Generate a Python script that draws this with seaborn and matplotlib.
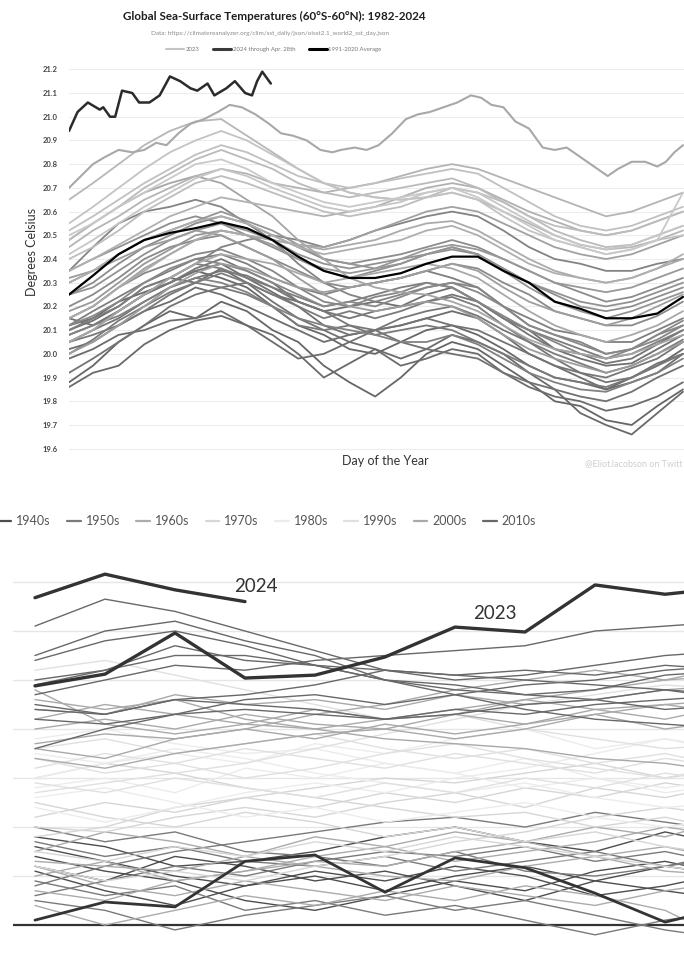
import numpy as np
import pandas as pd
import matplotlib
matplotlib.use("Agg")
import matplotlib.pyplot as plt
import seaborn as sns
from matplotlib.lines import Line2D

sns.set_theme(style="white")
plt.rcParams["font.family"] = ["Lato", "DejaVu Sans"]

# ---------------- top chart data (daily SST, deg C) ----------------
days = [1, 15, 30, 45, 60, 75, 90, 105, 120, 135, 150, 165, 180, 195, 210,
        225, 240, 255, 270, 285, 300, 315, 330, 345, 360]

avg_vals = [20.25, 20.33, 20.42, 20.48, 20.51, 20.53, 20.555, 20.53, 20.48, 20.41,
            20.35, 20.32, 20.32, 20.34, 20.38, 20.41, 20.41, 20.35, 20.30, 20.22,
            20.19, 20.15, 20.15, 20.17, 20.24]

days_2023 = [1, 8, 15, 22, 30, 38, 45, 52, 58, 65, 72, 80, 88, 95, 102, 110, 118,
             125, 132, 140, 148, 155, 160, 168, 175, 182, 190, 198, 205, 212, 220,
             228, 236, 242, 248, 255, 262, 270, 278, 285, 292, 300, 308, 316, 322,
             330, 338, 345, 350, 355, 360]
vals_2023 = [20.70, 20.75, 20.80, 20.83, 20.86, 20.85, 20.86, 20.89, 20.88, 20.93,
             20.97, 20.99, 21.02, 21.05, 21.04, 21.01, 20.97, 20.93, 20.92, 20.90,
             20.86, 20.85, 20.86, 20.87, 20.86, 20.88, 20.93, 20.99, 21.01, 21.02,
             21.04, 21.06, 21.09, 21.08, 21.05, 21.04, 20.98, 20.95, 20.87, 20.86,
             20.87, 20.83, 20.79, 20.75, 20.78, 20.81, 20.81, 20.79, 20.81, 20.85,
             20.88]

days_2024 = [1, 6, 12, 19, 21, 25, 28, 32, 38, 42, 48, 54, 60, 66, 72, 76, 82,
             86, 93, 98, 104, 108, 111, 114, 117, 119]
vals_2024 = [20.94, 21.02, 21.06, 21.03, 21.04, 21.00, 21.00, 21.11, 21.10, 21.06,
             21.06, 21.09, 21.17, 21.15, 21.12, 21.11, 21.14, 21.09, 21.12, 21.15,
             21.10, 21.09, 21.15, 21.19, 21.16, 21.14]

sst_years = {
    1982: [19.88, 19.95, 20.05, 20.12, 20.18, 20.15, 20.22, 20.18, 20.10, 20.05, 19.95, 19.88, 19.82, 19.90, 20.00, 20.05, 20.02, 19.95, 19.88, 19.80, 19.78, 19.72, 19.70, 19.78, 19.85],
    1983: [20.12, 20.15, 20.22, 20.26, 20.30, 20.35, 20.32, 20.28, 20.20, 20.12, 20.08, 20.02, 20.00, 20.05, 20.10, 20.12, 20.08, 20.02, 19.95, 19.90, 19.88, 19.85, 19.90, 19.95, 20.02],
    1984: [19.86, 19.92, 19.95, 20.04, 20.10, 20.14, 20.16, 20.12, 20.08, 20.00, 19.90, 19.96, 20.02, 19.98, 20.02, 20.08, 20.05, 20.00, 19.92, 19.85, 19.75, 19.70, 19.66, 19.75, 19.84],
    1985: [19.98, 20.02, 20.08, 20.10, 20.14, 20.15, 20.18, 20.12, 20.05, 19.98, 20.00, 20.05, 20.02, 19.95, 19.98, 20.02, 20.00, 19.92, 19.86, 19.82, 19.80, 19.76, 19.78, 19.82, 19.88],
    1986: [20.02, 20.05, 20.12, 20.18, 20.22, 20.28, 20.25, 20.20, 20.15, 20.10, 20.05, 20.08, 20.10, 20.12, 20.15, 20.18, 20.15, 20.08, 20.00, 19.95, 19.90, 19.85, 19.88, 19.92, 20.00],
    1987: [20.10, 20.14, 20.20, 20.28, 20.32, 20.30, 20.36, 20.30, 20.25, 20.22, 20.18, 20.20, 20.22, 20.20, 20.25, 20.28, 20.22, 20.15, 20.10, 20.02, 19.98, 19.95, 19.96, 20.02, 20.08],
    1988: [20.15, 20.12, 20.18, 20.25, 20.30, 20.35, 20.38, 20.32, 20.26, 20.20, 20.12, 20.08, 20.10, 20.05, 20.02, 20.00, 19.98, 19.92, 19.88, 19.85, 19.82, 19.80, 19.84, 19.90, 19.95],
    1989: [19.92, 19.98, 20.05, 20.12, 20.20, 20.25, 20.28, 20.30, 20.22, 20.15, 20.10, 20.05, 20.10, 20.12, 20.15, 20.12, 20.10, 20.05, 20.00, 19.95, 19.92, 19.88, 19.90, 19.96, 20.00],
    1990: [20.05, 20.10, 20.15, 20.22, 20.28, 20.32, 20.35, 20.33, 20.28, 20.22, 20.18, 20.15, 20.18, 20.20, 20.22, 20.25, 20.22, 20.15, 20.08, 20.02, 20.00, 19.96, 19.98, 20.04, 20.10],
    1991: [20.08, 20.12, 20.18, 20.25, 20.30, 20.36, 20.40, 20.35, 20.30, 20.22, 20.18, 20.12, 20.10, 20.15, 20.18, 20.20, 20.16, 20.10, 20.05, 19.98, 19.92, 19.90, 19.94, 19.98, 20.05],
    1992: [20.05, 20.08, 20.12, 20.18, 20.25, 20.30, 20.28, 20.25, 20.20, 20.12, 20.10, 20.12, 20.08, 20.10, 20.12, 20.10, 20.05, 20.00, 19.95, 19.90, 19.88, 19.86, 19.90, 19.95, 20.00],
    1993: [20.00, 20.06, 20.14, 20.20, 20.26, 20.30, 20.34, 20.30, 20.25, 20.20, 20.15, 20.18, 20.15, 20.18, 20.22, 20.24, 20.20, 20.12, 20.05, 20.00, 19.96, 19.92, 19.95, 20.00, 20.06],
    1994: [20.10, 20.15, 20.20, 20.28, 20.32, 20.38, 20.36, 20.32, 20.28, 20.24, 20.20, 20.22, 20.25, 20.28, 20.30, 20.28, 20.22, 20.15, 20.10, 20.06, 20.02, 19.98, 20.00, 20.05, 20.10],
    1995: [20.12, 20.18, 20.24, 20.30, 20.35, 20.40, 20.42, 20.38, 20.32, 20.28, 20.25, 20.28, 20.30, 20.32, 20.35, 20.32, 20.28, 20.20, 20.15, 20.10, 20.08, 20.05, 20.05, 20.10, 20.15],
    1996: [20.08, 20.12, 20.16, 20.22, 20.28, 20.32, 20.30, 20.26, 20.20, 20.15, 20.12, 20.10, 20.08, 20.05, 20.05, 20.08, 20.04, 19.98, 19.92, 19.88, 19.85, 19.84, 19.88, 19.92, 19.98],
    1997: [20.05, 20.10, 20.18, 20.25, 20.32, 20.38, 20.45, 20.48, 20.50, 20.48, 20.45, 20.48, 20.52, 20.55, 20.58, 20.60, 20.58, 20.52, 20.45, 20.40, 20.38, 20.35, 20.35, 20.38, 20.40],
    1998: [20.35, 20.45, 20.55, 20.60, 20.62, 20.65, 20.62, 20.55, 20.48, 20.38, 20.30, 20.25, 20.22, 20.25, 20.28, 20.30, 20.28, 20.20, 20.12, 20.08, 20.05, 20.00, 20.02, 20.08, 20.12],
    1999: [20.15, 20.20, 20.28, 20.34, 20.38, 20.42, 20.44, 20.40, 20.35, 20.28, 20.22, 20.20, 20.24, 20.26, 20.30, 20.28, 20.22, 20.16, 20.10, 20.05, 20.00, 19.98, 20.02, 20.06, 20.12],
    2000: [20.12, 20.16, 20.22, 20.30, 20.36, 20.40, 20.38, 20.35, 20.30, 20.25, 20.20, 20.22, 20.20, 20.24, 20.28, 20.30, 20.26, 20.20, 20.12, 20.08, 20.04, 20.00, 20.02, 20.08, 20.14],
    2001: [20.20, 20.25, 20.32, 20.40, 20.45, 20.48, 20.50, 20.45, 20.40, 20.35, 20.30, 20.28, 20.30, 20.32, 20.35, 20.38, 20.36, 20.30, 20.25, 20.18, 20.15, 20.12, 20.12, 20.16, 20.22],
    2002: [20.25, 20.30, 20.38, 20.45, 20.50, 20.55, 20.58, 20.55, 20.50, 20.45, 20.40, 20.38, 20.40, 20.42, 20.45, 20.48, 20.45, 20.40, 20.35, 20.30, 20.26, 20.22, 20.24, 20.28, 20.32],
    2003: [20.35, 20.40, 20.45, 20.50, 20.55, 20.58, 20.55, 20.50, 20.45, 20.40, 20.35, 20.32, 20.35, 20.38, 20.42, 20.45, 20.42, 20.36, 20.30, 20.25, 20.20, 20.18, 20.20, 20.24, 20.28],
    2004: [20.25, 20.28, 20.35, 20.42, 20.48, 20.52, 20.55, 20.52, 20.48, 20.42, 20.38, 20.36, 20.38, 20.40, 20.42, 20.44, 20.42, 20.36, 20.30, 20.26, 20.22, 20.20, 20.22, 20.26, 20.30],
    2005: [20.30, 20.35, 20.42, 20.48, 20.52, 20.56, 20.60, 20.56, 20.52, 20.46, 20.40, 20.38, 20.36, 20.38, 20.42, 20.45, 20.42, 20.35, 20.28, 20.22, 20.18, 20.15, 20.18, 20.22, 20.26],
    2006: [20.18, 20.22, 20.30, 20.38, 20.44, 20.50, 20.52, 20.50, 20.46, 20.40, 20.36, 20.34, 20.36, 20.40, 20.44, 20.46, 20.44, 20.40, 20.35, 20.30, 20.28, 20.26, 20.28, 20.32, 20.36],
    2007: [20.32, 20.35, 20.40, 20.45, 20.48, 20.52, 20.50, 20.45, 20.40, 20.32, 20.25, 20.20, 20.18, 20.20, 20.22, 20.20, 20.15, 20.08, 20.02, 19.98, 19.95, 19.92, 19.95, 20.00, 20.05],
    2008: [20.00, 20.05, 20.12, 20.20, 20.28, 20.34, 20.38, 20.36, 20.32, 20.28, 20.26, 20.28, 20.30, 20.32, 20.35, 20.38, 20.35, 20.28, 20.22, 20.18, 20.15, 20.12, 20.15, 20.20, 20.25],
    2009: [20.15, 20.20, 20.28, 20.36, 20.42, 20.48, 20.52, 20.50, 20.48, 20.46, 20.45, 20.48, 20.52, 20.56, 20.60, 20.62, 20.60, 20.55, 20.50, 20.45, 20.42, 20.40, 20.42, 20.46, 20.50],
    2010: [20.48, 20.55, 20.62, 20.68, 20.72, 20.75, 20.72, 20.65, 20.58, 20.48, 20.40, 20.32, 20.28, 20.26, 20.25, 20.22, 20.18, 20.12, 20.06, 20.02, 20.00, 19.98, 20.00, 20.04, 20.08],
    2011: [20.05, 20.10, 20.18, 20.25, 20.32, 20.38, 20.42, 20.40, 20.38, 20.34, 20.30, 20.32, 20.34, 20.36, 20.38, 20.36, 20.32, 20.25, 20.18, 20.12, 20.08, 20.05, 20.08, 20.12, 20.18],
    2012: [20.15, 20.20, 20.28, 20.35, 20.42, 20.48, 20.52, 20.50, 20.48, 20.46, 20.44, 20.46, 20.48, 20.52, 20.55, 20.56, 20.52, 20.46, 20.40, 20.35, 20.32, 20.30, 20.32, 20.36, 20.40],
    2013: [20.30, 20.35, 20.42, 20.48, 20.52, 20.56, 20.58, 20.55, 20.50, 20.45, 20.42, 20.44, 20.46, 20.48, 20.52, 20.54, 20.50, 20.44, 20.38, 20.34, 20.32, 20.30, 20.32, 20.36, 20.42],
    2014: [20.35, 20.40, 20.46, 20.52, 20.58, 20.62, 20.66, 20.64, 20.62, 20.60, 20.58, 20.60, 20.62, 20.66, 20.70, 20.72, 20.70, 20.65, 20.60, 20.56, 20.52, 20.50, 20.52, 20.56, 20.60],
    2015: [20.45, 20.52, 20.58, 20.65, 20.70, 20.75, 20.78, 20.76, 20.72, 20.70, 20.68, 20.70, 20.72, 20.75, 20.78, 20.80, 20.78, 20.74, 20.70, 20.66, 20.62, 20.58, 20.60, 20.64, 20.68],
    2016: [20.65, 20.72, 20.80, 20.88, 20.94, 20.98, 20.99, 20.92, 20.85, 20.78, 20.72, 20.68, 20.66, 20.65, 20.66, 20.68, 20.65, 20.60, 20.55, 20.50, 20.46, 20.44, 20.45, 20.48, 20.52],
    2017: [20.48, 20.55, 20.62, 20.70, 20.76, 20.82, 20.86, 20.82, 20.78, 20.72, 20.68, 20.66, 20.68, 20.70, 20.72, 20.74, 20.70, 20.64, 20.58, 20.52, 20.48, 20.45, 20.46, 20.50, 20.54],
    2018: [20.40, 20.45, 20.52, 20.60, 20.66, 20.72, 20.75, 20.72, 20.68, 20.64, 20.60, 20.58, 20.60, 20.62, 20.66, 20.70, 20.68, 20.64, 20.58, 20.54, 20.52, 20.50, 20.52, 20.56, 20.60],
    2019: [20.52, 20.58, 20.65, 20.72, 20.78, 20.84, 20.88, 20.85, 20.80, 20.75, 20.72, 20.70, 20.72, 20.74, 20.76, 20.78, 20.76, 20.70, 20.64, 20.58, 20.54, 20.52, 20.54, 20.58, 20.62],
    2020: [20.55, 20.62, 20.70, 20.78, 20.85, 20.90, 20.94, 20.90, 20.84, 20.78, 20.72, 20.68, 20.66, 20.65, 20.66, 20.68, 20.65, 20.58, 20.52, 20.48, 20.45, 20.42, 20.44, 20.48, 20.50],
    2021: [20.42, 20.48, 20.55, 20.62, 20.68, 20.74, 20.78, 20.75, 20.70, 20.66, 20.62, 20.60, 20.62, 20.64, 20.68, 20.70, 20.68, 20.62, 20.56, 20.50, 20.46, 20.44, 20.46, 20.50, 20.54],
    2022: [20.50, 20.55, 20.62, 20.68, 20.74, 20.80, 20.82, 20.78, 20.72, 20.68, 20.64, 20.62, 20.64, 20.66, 20.68, 20.70, 20.66, 20.60, 20.54, 20.48, 20.45, 20.42, 20.44, 20.48, 20.68],
}

top_yticks = [19.6, 19.7, 19.8, 19.9, 20.0, 20.1, 20.2, 20.3, 20.4, 20.5,
              20.6, 20.7, 20.8, 20.9, 21.0, 21.1, 21.2]

# ---------------- bottom chart data (monthly, by decade) ----------------
months = [1, 2, 3, 4, 5, 6, 7, 8, 9, 10, 11, 12]
decades = ["1940s", "1950s", "1960s", "1970s", "1980s", "1990s", "2000s", "2010s"]
decade_colors = {"1940s": "#4d4d4d", "1950s": "#7a7a7a", "1960s": "#ababab",
                 "1970s": "#d6d6d6", "1980s": "#ececec", "1990s": "#e0e0e0",
                 "2000s": "#a9a9a9", "2010s": "#686868"}

monthly = {
    "1940s": {
        1941: [0.16, 0.13, 0.10, 0.08, 0.11, 0.09, 0.12, 0.10, 0.06, 0.08, 0.11, 0.10],
        1942: [0.12, 0.09, 0.14, 0.12, 0.09, 0.11, 0.08, 0.05, 0.09, 0.12, 0.10, 0.08],
        1944: [0.18, 0.16, 0.12, 0.13, 0.15, 0.18, 0.20, 0.17, 0.15, 0.19, 0.16, 0.14],
        1945: [0.11, 0.07, 0.04, 0.08, 0.10, 0.07, 0.10, 0.12, 0.09, 0.07, 0.05, 0.07],
        1948: [0.14, 0.11, 0.09, 0.05, 0.03, 0.06, 0.09, 0.07, 0.11, 0.13, 0.10, 0.09],
    },
    "1950s": {
        1951: [0.06, 0.09, 0.12, 0.10, 0.13, 0.15, 0.14, 0.16, 0.13, 0.15, 0.12, 0.14],
        1953: [0.17, 0.14, 0.16, 0.13, 0.12, 0.14, 0.11, 0.13, 0.15, 0.12, 0.14, 0.13],
        1954: [0.09, 0.06, 0.08, 0.03, 0.05, 0.02, 0.04, 0.01, -0.02, 0.01, 0.03, 0.02],
        1956: [0.05, 0.03, -0.01, 0.02, 0.04, 0.06, 0.03, 0.05, 0.02, -0.01, -0.03, 0.00],
        1957: [0.08, 0.12, 0.15, 0.17, 0.19, 0.21, 0.22, 0.20, 0.23, 0.21, 0.19, 0.20],
        1958: [0.20, 0.17, 0.19, 0.15, 0.14, 0.12, 0.15, 0.11, 0.10, 0.12, 0.15, 0.13],
    },
    "1960s": {
        1961: [0.13, 0.12, 0.11, 0.14, 0.12, 0.10, 0.09, 0.12, 0.14, 0.11, 0.10, 0.12],
        1963: [0.10, 0.13, 0.09, 0.11, 0.14, 0.16, 0.13, 0.15, 0.17, 0.20, 0.18, 0.16],
        1965: [0.07, 0.05, 0.09, 0.11, 0.13, 0.12, 0.15, 0.17, 0.14, 0.16, 0.13, 0.15],
        1967: [0.12, 0.08, 0.06, 0.09, 0.07, 0.05, 0.08, 0.06, 0.04, 0.07, 0.09, 0.06],
        1968: [0.04, 0.00, 0.03, 0.06, 0.04, 0.07, 0.05, 0.08, 0.06, 0.03, -0.04, 0.02],
        1969: [0.15, 0.19, 0.17, 0.14, 0.18, 0.16, 0.19, 0.17, 0.20, 0.18, 0.22, 0.19],
    },
    "1970s": {
        1970: [0.25, 0.22, 0.20, 0.23, 0.21, 0.18, 0.20, 0.17, 0.19, 0.16, 0.14, 0.17],
        1972: [0.18, 0.20, 0.24, 0.26, 0.28, 0.30, 0.29, 0.31, 0.33, 0.30, 0.32, 0.30],
        1973: [0.30, 0.33, 0.31, 0.28, 0.26, 0.24, 0.22, 0.23, 0.20, 0.22, 0.19, 0.21],
        1974: [0.15, 0.13, 0.16, 0.14, 0.17, 0.15, 0.18, 0.16, 0.14, 0.12, 0.10, 0.13],
        1976: [0.12, 0.09, 0.11, 0.09, 0.12, 0.14, 0.17, 0.19, 0.22, 0.24, 0.22, 0.25],
        1977: [0.22, 0.25, 0.23, 0.26, 0.24, 0.27, 0.25, 0.28, 0.26, 0.29, 0.27, 0.28],
        1979: [0.20, 0.19, 0.22, 0.24, 0.22, 0.25, 0.27, 0.24, 0.28, 0.26, 0.29, 0.27],
    },
    "1980s": {
        1980: [0.28, 0.30, 0.27, 0.32, 0.30, 0.33, 0.31, 0.28, 0.30, 0.27, 0.29, 0.26],
        1982: [0.24, 0.21, 0.24, 0.27, 0.29, 0.27, 0.30, 0.32, 0.35, 0.38, 0.36, 0.37],
        1983: [0.38, 0.40, 0.37, 0.35, 0.36, 0.33, 0.31, 0.34, 0.30, 0.28, 0.30, 0.29],
        1984: [0.26, 0.28, 0.25, 0.22, 0.24, 0.21, 0.23, 0.25, 0.22, 0.20, 0.22, 0.19],
        1987: [0.30, 0.33, 0.35, 0.33, 0.37, 0.35, 0.38, 0.40, 0.36, 0.38, 0.35, 0.37],
        1988: [0.35, 0.33, 0.36, 0.34, 0.31, 0.29, 0.27, 0.29, 0.26, 0.24, 0.25, 0.23],
    },
    "1990s": {
        1990: [0.32, 0.35, 0.33, 0.36, 0.34, 0.32, 0.35, 0.33, 0.31, 0.34, 0.32, 0.30],
        1991: [0.34, 0.31, 0.33, 0.30, 0.32, 0.35, 0.37, 0.34, 0.32, 0.30, 0.33, 0.31],
        1995: [0.36, 0.38, 0.35, 0.37, 0.39, 0.36, 0.34, 0.36, 0.33, 0.35, 0.32, 0.34],
        1997: [0.27, 0.29, 0.31, 0.33, 0.36, 0.39, 0.42, 0.45, 0.47, 0.49, 0.48, 0.50],
        1998: [0.52, 0.54, 0.51, 0.48, 0.45, 0.42, 0.43, 0.40, 0.38, 0.36, 0.37, 0.35],
        1999: [0.29, 0.27, 0.30, 0.28, 0.26, 0.29, 0.27, 0.30, 0.28, 0.31, 0.29, 0.32],
    },
    "2000s": {
        2001: [0.36, 0.34, 0.38, 0.40, 0.38, 0.41, 0.39, 0.41, 0.43, 0.40, 0.42, 0.41],
        2002: [0.42, 0.45, 0.43, 0.41, 0.44, 0.42, 0.43, 0.41, 0.44, 0.42, 0.45, 0.43],
        2003: [0.46, 0.44, 0.46, 0.42, 0.40, 0.42, 0.44, 0.46, 0.44, 0.45, 0.43, 0.44],
        2004: [0.40, 0.42, 0.40, 0.43, 0.41, 0.40, 0.38, 0.40, 0.43, 0.45, 0.46, 0.44],
        2005: [0.44, 0.43, 0.47, 0.45, 0.46, 0.44, 0.47, 0.45, 0.46, 0.48, 0.49, 0.47],
        2006: [0.34, 0.32, 0.35, 0.37, 0.39, 0.40, 0.43, 0.46, 0.48, 0.50, 0.51, 0.52],
        2007: [0.48, 0.41, 0.39, 0.41, 0.40, 0.38, 0.37, 0.36, 0.34, 0.33, 0.31, 0.30],
        2009: [0.37, 0.39, 0.38, 0.40, 0.43, 0.45, 0.48, 0.50, 0.52, 0.50, 0.53, 0.52],
    },
    "2010s": {
        2010: [0.55, 0.60, 0.62, 0.58, 0.55, 0.50, 0.47, 0.44, 0.42, 0.41, 0.40, 0.39],
        2012: [0.36, 0.40, 0.43, 0.46, 0.47, 0.45, 0.47, 0.49, 0.50, 0.52, 0.53, 0.51],
        2014: [0.44, 0.43, 0.46, 0.47, 0.49, 0.52, 0.50, 0.51, 0.53, 0.55, 0.56, 0.54],
        2015: [0.47, 0.50, 0.53, 0.52, 0.54, 0.55, 0.56, 0.57, 0.60, 0.61, 0.62, 0.61],
        2016: [0.61, 0.665, 0.64, 0.60, 0.56, 0.52, 0.51, 0.50, 0.49, 0.48, 0.47, 0.46],
        2017: [0.49, 0.52, 0.55, 0.55, 0.53, 0.52, 0.51, 0.52, 0.51, 0.53, 0.52, 0.51],
        2019: [0.50, 0.52, 0.57, 0.54, 0.53, 0.50, 0.49, 0.47, 0.48, 0.51, 0.52, 0.53],
        2020: [0.54, 0.58, 0.60, 0.57, 0.53, 0.50, 0.48, 0.47, 0.46, 0.44, 0.45, 0.43],
        2021: [0.42, 0.41, 0.43, 0.44, 0.43, 0.42, 0.44, 0.43, 0.45, 0.46, 0.47, 0.45],
        2022: [0.45, 0.43, 0.46, 0.45, 0.44, 0.42, 0.43, 0.45, 0.46, 0.48, 0.46, 0.47],
    },
}

low_thick_vals = [0.01, 0.047, 0.037, 0.13, 0.143, 0.067, 0.137, 0.117, 0.065, 0.006, 0.04, 0.05]
m2023_vals = [0.488, 0.512, 0.596, 0.504, 0.51, 0.547, 0.608, 0.598, 0.694, 0.675, 0.69, 0.66]
m2024_months = [1, 2, 3, 4]
m2024_vals = [0.668, 0.716, 0.684, 0.66]
bottom_grid = [0.1, 0.2, 0.3, 0.4, 0.5, 0.6, 0.7]

# ---------------- figure ----------------
W, H = 684, 958
fig = plt.figure(figsize=(W / 100, H / 100), dpi=100)


def rect(l, t, r, b):
    return [l / W, 1 - b / H, (r - l) / W, (b - t) / H]


ax1 = fig.add_axes(rect(69, 62.2, 684, 455.8))
ax2 = fig.add_axes(rect(13, 552.6, 684, 956.9))

# --- top chart ---
top_df = pd.DataFrame([(yr, d, v) for yr, vals in sst_years.items() for d, v in zip(days, vals)],
                      columns=["year", "day", "temp"])
years_sorted = sorted(sst_years)
pal_list = sns.blend_palette(["#666666", "#8c8c8c", "#c9c9c9"], len(years_sorted))
pal = {yr: c for yr, c in zip(years_sorted, pal_list)}
sns.lineplot(data=top_df, x="day", y="temp", hue="year", palette=pal, legend=False,
             estimator=None, sort=False, linewidth=1.3, ax=ax1)
sns.lineplot(x=days_2023, y=vals_2023, color="#a8a8a8", linewidth=1.5, ax=ax1)
sns.lineplot(x=days, y=avg_vals, color="#000000", linewidth=1.6, ax=ax1)
sns.lineplot(x=days_2024, y=vals_2024, color="#2b2b2b", linewidth=1.8, ax=ax1)

ax1.set_xlim(1, 360.6)
ax1.set_ylim(19.57, 21.23)
ax1.set_yticks(top_yticks)
ax1.set_yticklabels([f"{t:.1f}" for t in top_yticks], fontsize=5.5, fontweight="bold", color="#444444")
ax1.set_xticks([])
ax1.tick_params(axis="y", length=0, pad=8)
ax1.grid(axis="y", color="#ededed", linewidth=0.8)
ax1.set_axisbelow(True)
for s in ax1.spines.values():
    s.set_visible(False)
ax1.set_xlabel("")
ax1.set_ylabel("")

fig.text(274 / W, 1 - 16 / H, "Global Sea-Surface Temperatures (60°S-60°N): 1982-2024",
         ha="center", va="center", fontsize=8.4, fontweight="bold", color="#1e1e1e")
fig.text(270 / W, 1 - 33 / H, "Data: https://climatereanalyzer.org/clim/sst_daily/json/oisst2.1_world2_sst_day.json",
         ha="center", va="center", fontsize=4.6, color="#8a8a8a")
fig.text(32 / W, 1 - 252 / H, "Degrees Celsius", rotation=90, ha="center", va="center",
         fontsize=9, color="#333333")
fig.text(385 / W, 1 - 461 / H, "Day of the Year", ha="center", va="center",
         fontsize=9, color="#333333")
fig.text(683 / W, 1 - 464 / H, "@EliotJacobson on Twitt", ha="right", va="center",
         fontsize=6.5, color="#cfcfcf")

top_handles = [Line2D([], [], color="#c4c4c4", lw=1.5),
               Line2D([], [], color="#3a3a3a", lw=2.2),
               Line2D([], [], color="#000000", lw=2.2)]
fig.legend(top_handles, ["2023", "2024 through Apr. 28th", "1991-2020 Average"],
           loc="center", bbox_to_anchor=(274 / W, 1 - 49 / H), ncol=3, frameon=False,
           fontsize=4.3, handlelength=3.0, handletextpad=0.3, columnspacing=2.2,
           labelcolor="#777777", borderpad=0)

# --- bottom chart ---
rows = []
pal2 = {}
for dec in decades:
    for yr, vals in monthly[dec].items():
        pal2[yr] = decade_colors[dec]
        rows += [(yr, m, v) for m, v in zip(months, vals)]
bot_df = pd.DataFrame(rows, columns=["year", "month", "value"])
sns.lineplot(data=bot_df, x="month", y="value", hue="year", palette=pal2, legend=False,
             estimator=None, sort=False, linewidth=1.0, ax=ax2)
sns.lineplot(x=months, y=low_thick_vals, color="#333333", linewidth=2.0, ax=ax2)
sns.lineplot(x=months, y=m2023_vals, color="#333333", linewidth=2.4, ax=ax2)
sns.lineplot(x=m2024_months, y=m2024_vals, color="#333333", linewidth=2.4, ax=ax2)
ax2.axhline(0, color="#333333", linewidth=1.6, zorder=0.5)

ax2.text(4.16, 0.69, "2024", ha="center", va="center", fontsize=13.5, color="#333333")
ax2.text(7.57, 0.635, "2023", ha="center", va="center", fontsize=13.5, color="#333333")

ax2.set_xlim(0.686, 10.27)
ax2.set_ylim(-0.065, 0.76)
ax2.set_yticks(bottom_grid)
ax2.set_yticklabels([])
ax2.set_xticks([])
ax2.tick_params(length=0)
ax2.grid(axis="y", color="#e6e6e6", linewidth=1.0)
ax2.set_axisbelow(True)
for s in ax2.spines.values():
    s.set_visible(False)
ax2.set_xlabel("")
ax2.set_ylabel("")

dec_handles = [Line2D([], [], color=decade_colors[d], lw=1.6) for d in decades]
fig.legend(dec_handles, decades, loc="center left", bbox_to_anchor=(-0.004, 1 - 521 / H),
           ncol=8, frameon=False, handlelength=1.1, handletextpad=0.4,
           columnspacing=1.3, labelcolor="#555555", borderpad=0, borderaxespad=0,
           prop={"family": ["Lato", "DejaVu Sans"], "size": 9})

fig.savefig("out.png", dpi=100)
